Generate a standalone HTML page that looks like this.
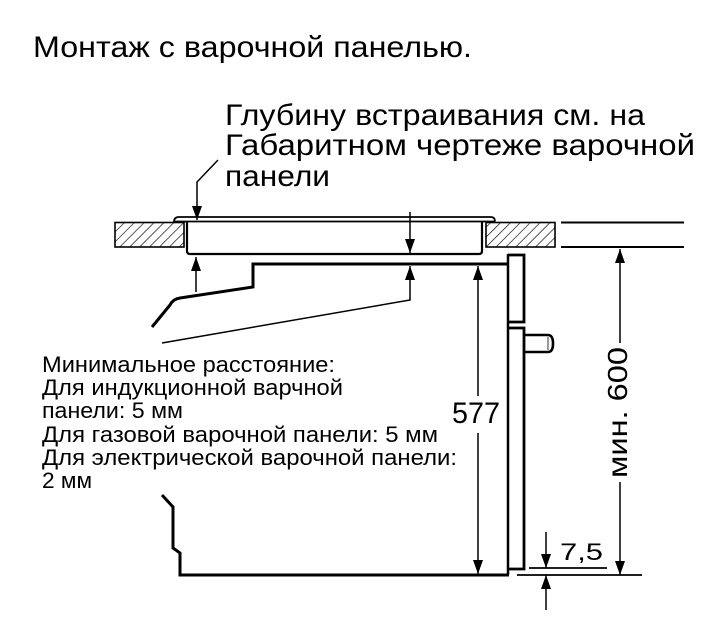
<!DOCTYPE html>
<html>
<head>
<meta charset="utf-8">
<style>
html,body{margin:0;padding:0;background:#fff;}
svg{display:block;}
text{font-family:"Liberation Sans","Noto Sans CJK SC",sans-serif;fill:#000;}
</style>
</head>
<body>
<svg width="720" height="642" viewBox="0 0 720 642" xmlns="http://www.w3.org/2000/svg">
<defs>
<pattern id="h" patternUnits="userSpaceOnUse" width="7" height="7" patternTransform="rotate(45)">
<line x1="0" y1="0" x2="0" y2="7" stroke="#000" stroke-width="1.3"/>
</pattern>
<marker id="a" viewBox="0 0 14 10" refX="14" refY="5" markerWidth="14" markerHeight="10" markerUnits="userSpaceOnUse" orient="auto">
<path d="M0,0 L14,5 L0,10 z" fill="#000"/>
</marker>
</defs>

<!-- Title -->
<text x="33" y="57" font-size="30" textLength="439" lengthAdjust="spacingAndGlyphs">Монтаж с варочной панелью.</text>

<!-- Hob note -->
<text x="225" y="125" font-size="30" textLength="420" lengthAdjust="spacingAndGlyphs">Глубину встраивания см. на</text>
<text x="225" y="155" font-size="30" textLength="470" lengthAdjust="spacingAndGlyphs">Габаритном чертеже варочной</text>
<text x="225" y="186" font-size="30" textLength="105" lengthAdjust="spacingAndGlyphs">панели</text>

<!-- Left notes -->
<g font-size="22.5">
<text x="42" y="372" textLength="293" lengthAdjust="spacingAndGlyphs">Минимальное расстояние:</text>
<text x="42" y="395" textLength="301" lengthAdjust="spacingAndGlyphs">Для индукционной варчной</text>
<text x="42" y="418" textLength="141" lengthAdjust="spacingAndGlyphs">панели: 5 мм</text>
<text x="42" y="442" textLength="396" lengthAdjust="spacingAndGlyphs">Для газовой варочной панели: 5 мм</text>
<text x="42" y="465" textLength="415" lengthAdjust="spacingAndGlyphs">Для электрической варочной панели:</text>
<text x="42" y="488" textLength="50" lengthAdjust="spacingAndGlyphs">2 мм</text>
</g>

<!-- Countertops -->
<rect x="115" y="222.5" width="69" height="24.5" fill="url(#h)" stroke="#000" stroke-width="1.6"/>
<rect x="486" y="222.5" width="69" height="24.5" fill="url(#h)" stroke="#000" stroke-width="1.6"/>

<!-- Hob plate -->
<path d="M174,222 Q174,217 179,217 L491,217 Q495,217 495,221.5" fill="none" stroke="#000" stroke-width="1.8"/>
<line x1="174" y1="221.5" x2="495" y2="221.5" stroke="#000" stroke-width="1.8"/>
<!-- Hob body -->
<path d="M187,221.5 L187,251 Q187,254 190,254 L479,254 Q482,254 482,251 L482,221.5" fill="none" stroke="#000" stroke-width="2.2"/>

<!-- Leader from note -->
<path d="M218,160 L197,182 L197,220" fill="none" stroke="#000" stroke-width="1.5" marker-end="url(#a)"/>
<!-- Up arrow under hob left -->
<line x1="196" y1="292" x2="196" y2="257" stroke="#000" stroke-width="1.5" marker-end="url(#a)"/>
<!-- Down arrow at x=410 -->
<line x1="410" y1="212" x2="410" y2="253" stroke="#000" stroke-width="1.5" marker-end="url(#a)"/>
<!-- Up arrow at x=410 with leader -->
<path d="M162,343 L410,300 L410,266" fill="none" stroke="#000" stroke-width="1.5" marker-end="url(#a)"/>

<!-- Cabinet top / oven -->
<path d="M508,264 L253,264 L253,287 L180,298 Q173,299 170,305 L152,327" fill="none" stroke="#000" stroke-width="3" stroke-linejoin="miter"/>

<!-- Front panel -->
<path d="M508,255 L524,255 L524,322 L508,322" fill="none" stroke="#000" stroke-width="2.8"/>
<line x1="508" y1="254" x2="508" y2="575" stroke="#000" stroke-width="2.5"/>
<path d="M508,328 L524,328 L524,569 L509,569" fill="none" stroke="#000" stroke-width="2.8"/>
<!-- Knob -->
<path d="M524,335 L548,335 Q553,335 553,343.5 Q553,352 548,352 L524,352" fill="none" stroke="#000" stroke-width="2.6"/>
<line x1="548" y1="337" x2="548" y2="350" stroke="#000" stroke-width="0.8"/>

<!-- Bottom bracket and cabinet bottom -->
<path d="M162,495 L173,507 L173,548 L180,553 L180,575 L509,575" fill="none" stroke="#000" stroke-width="3"/>

<!-- 577 dimension -->
<line x1="478" y1="396" x2="478" y2="266" stroke="#000" stroke-width="1.5" marker-end="url(#a)"/>
<line x1="478" y1="433" x2="478" y2="574" stroke="#000" stroke-width="1.5" marker-end="url(#a)"/>
<text x="452" y="423" font-size="30" textLength="48" lengthAdjust="spacingAndGlyphs">577</text>

<!-- Right extension lines -->
<line x1="561" y1="222.5" x2="684" y2="222.5" stroke="#000" stroke-width="2"/>
<line x1="561" y1="247" x2="684" y2="247" stroke="#000" stroke-width="2"/>

<!-- мин. 600 -->
<line x1="620" y1="343" x2="620" y2="249" stroke="#000" stroke-width="1.5" marker-end="url(#a)"/>
<line x1="620" y1="482" x2="620" y2="575" stroke="#000" stroke-width="1.5" marker-end="url(#a)"/>
<text transform="translate(627,478) rotate(-90)" x="0" y="0" font-size="28" textLength="131" lengthAdjust="spacingAndGlyphs">мин. 600</text>

<!-- 7,5 dimension -->
<line x1="529" y1="568" x2="607" y2="568" stroke="#000" stroke-width="1.8"/>
<line x1="517" y1="575" x2="642" y2="575" stroke="#000" stroke-width="1.8"/>
<line x1="546" y1="532" x2="546" y2="568" stroke="#000" stroke-width="1.5" marker-end="url(#a)"/>
<line x1="546" y1="610" x2="546" y2="575" stroke="#000" stroke-width="1.5" marker-end="url(#a)"/>
<text x="560" y="560" font-size="24" textLength="43" lengthAdjust="spacingAndGlyphs">7,5</text>
</svg>
</body>
</html>
